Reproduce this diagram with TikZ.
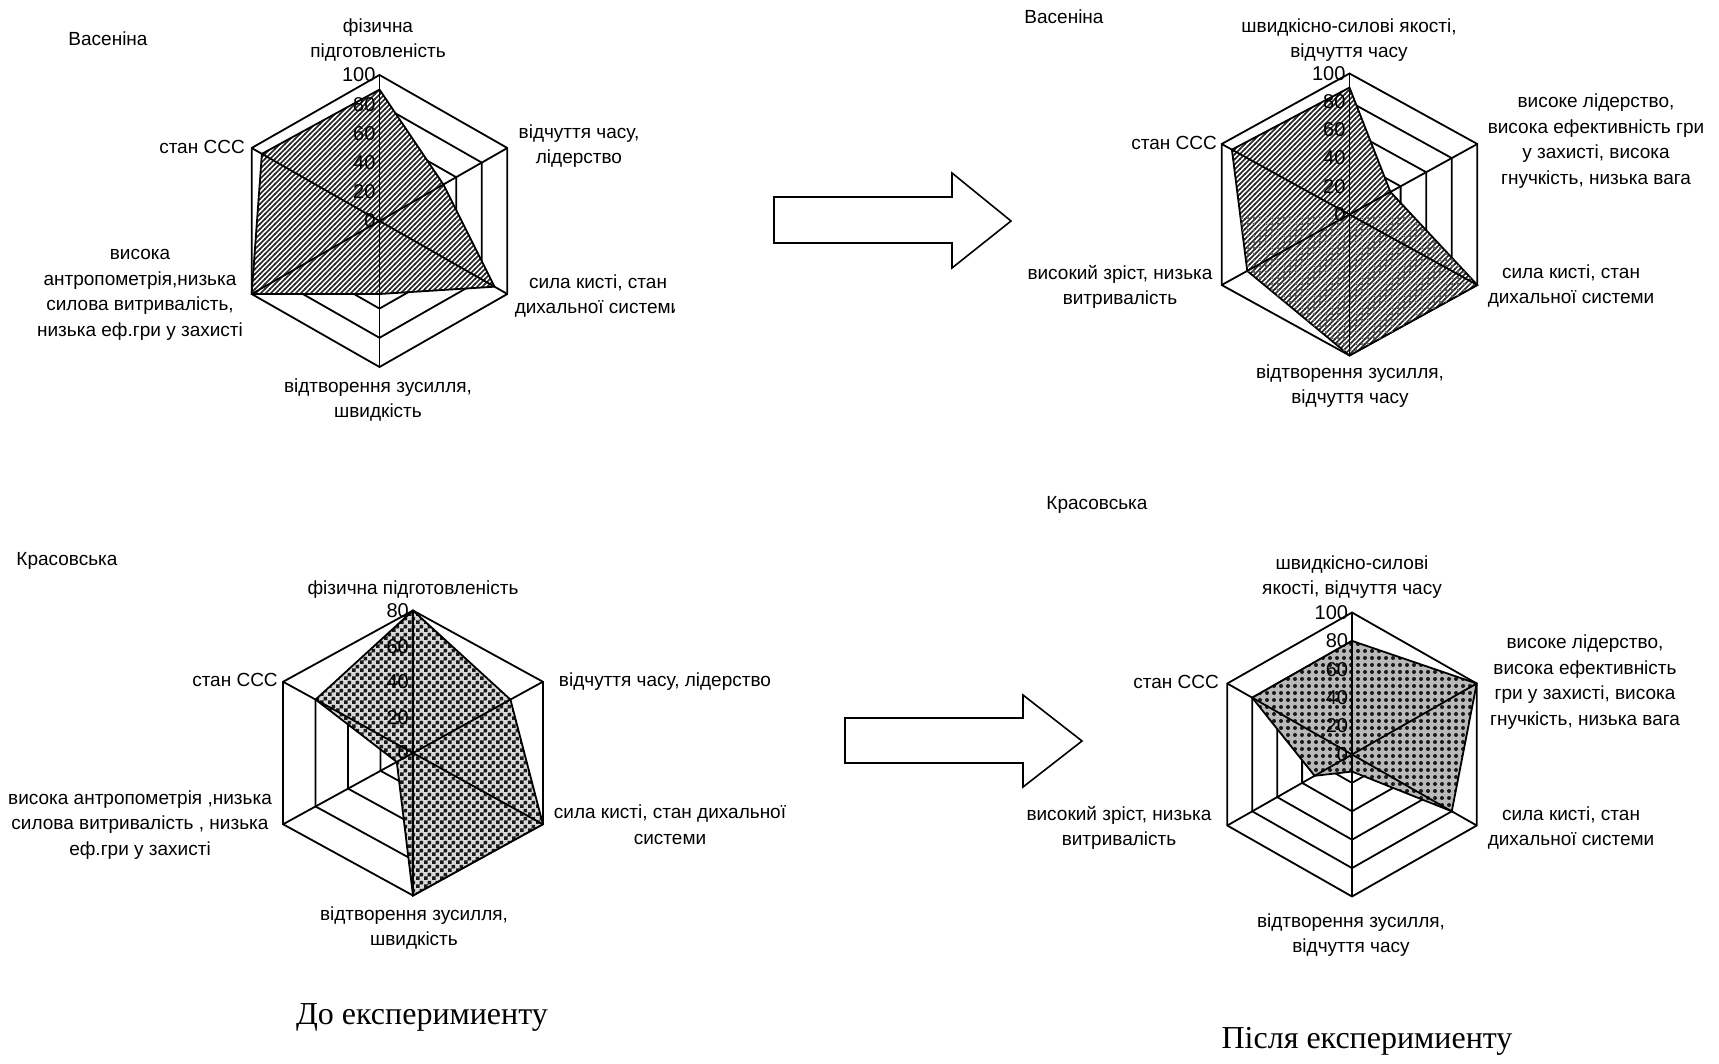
\documentclass[tikz,border=0pt]{standalone}
\usepackage{fontspec}
\setmainfont{Liberation Sans}
\newfontfamily\captionfont{Liberation Serif}
\usetikzlibrary{patterns}

\pgfdeclarepatternformonly{hatchne}{\pgfqpoint{-1pt}{-1pt}}{\pgfqpoint{3.5pt}{3.5pt}}{\pgfqpoint{2.5pt}{2.5pt}}%
{\pgfsetlinewidth{0.75pt}\pgfpathmoveto{\pgfqpoint{-0.2pt}{-0.2pt}}\pgfpathlineto{\pgfqpoint{2.7pt}{2.7pt}}\pgfusepath{stroke}}
\pgfdeclarepatternformonly{checkfine}{\pgfpointorigin}{\pgfqpoint{4pt}{4pt}}{\pgfqpoint{4pt}{4pt}}%
{\pgfpathrectangle{\pgfpointorigin}{\pgfqpoint{2pt}{2pt}}\pgfpathrectangle{\pgfqpoint{2pt}{2pt}}{\pgfqpoint{2pt}{2pt}}\pgfusepath{fill}}
\pgfdeclarepatternformonly{dotsfine}{\pgfqpoint{-1.5pt}{-1.5pt}}{\pgfqpoint{1.5pt}{1.5pt}}{\pgfqpoint{3pt}{3pt}}%
{\pgfpathcircle{\pgfpointorigin}{0.75pt}\pgfusepath{fill}}
\pgfdeclarepatternformonly{dotsbig}{\pgfqpoint{-1.75pt}{-1.75pt}}{\pgfqpoint{1.75pt}{1.75pt}}{\pgfqpoint{3.5pt}{3.5pt}}%
{\pgfpathcircle{\pgfpointorigin}{1pt}\pgfusepath{fill}}

\tikzset{
  gridring/.style={line width=0.9pt},
  axisline/.style={line width=0.9pt},
  dataarea/.style={line width=0.9pt, preaction={fill=white}},
  ticklabel/.style={anchor=east, inner sep=0pt, font=\fontsize{10}{11}\selectfont},
  axlabel/.style={align=center, inner sep=0pt, font=\fontsize{9.5}{12.8}\selectfont},
  chartname/.style={inner sep=0pt, font=\fontsize{9.5}{11}\selectfont},
  captext/.style={inner sep=0pt, font=\captionfont\fontsize{16}{19}\selectfont},
  bigarrow/.style={line width=0.8pt},
}

\begin{document}
\begin{tikzpicture}[x=0.5pt, y=-0.5pt]
  \useasboundingbox (0,0) rectangle (1719,1064);

  % Васеніна, до
  \begin{scope}[shift={(379.5,221)}, x=73.8pt, y=73pt]
    \foreach \k [evaluate=\k as \r using \k/5] in {1,...,5}
      \draw[gridring] (90:\r) -- (30:\r) -- (-30:\r) -- (-90:\r) -- (-150:\r) -- (150:\r) -- cycle;
    \draw[dataarea, pattern=hatchne, pattern color=black!85]
      (90:0.9) -- (30:0.5) -- (-30:0.9) -- (-90:0.5) -- (-150:1) -- (150:0.92) -- cycle;
    \path
      (0,0) coordinate (vdc)
      (90:1) coordinate (vd0)
      (30:1) coordinate (vd1)
      (-30:1) coordinate (vd2)
      (-90:1) coordinate (vd3)
      (-150:1) coordinate (vd4)
      (150:1) coordinate (vd5);
    \foreach \i in {0,...,5}
      \draw[axisline] (vdc) -- (vd\i);
    \foreach \t in {0,20,40,60,80,100}
      \node[ticklabel] at (-0.025,\t/100) {\t};
  \end{scope}

  % Васеніна, після
  \begin{scope}[shift={(1349.5,214.5)}, x=73.8pt, y=70.5pt]
    \foreach \k [evaluate=\k as \r using \k/5] in {1,...,5}
      \draw[gridring] (90:\r) -- (30:\r) -- (-30:\r) -- (-90:\r) -- (-150:\r) -- (150:\r) -- cycle;
    \draw[dataarea, pattern=hatchne, pattern color=black!85]
      (90:0.9) -- (30:0.32) -- (-30:1) -- (-90:1) -- (-150:0.8) -- (150:0.92) -- cycle;
    \begin{scope}
      \clip (-1.1,0) rectangle (1.1,-1.1);
      \path[pattern=dotsfine, pattern color=black!60]
        (90:0.9) -- (30:0.32) -- (-30:1) -- (-90:1) -- (-150:0.8) -- (150:0.92) -- cycle;
    \end{scope}
    \path
      (0,0) coordinate (vpc)
      (90:1) coordinate (vp0)
      (30:1) coordinate (vp1)
      (-30:1) coordinate (vp2)
      (-90:1) coordinate (vp3)
      (-150:1) coordinate (vp4)
      (150:1) coordinate (vp5);
    \foreach \i in {0,...,5}
      \draw[axisline] (vpc) -- (vp\i);
    \foreach \t in {0,20,40,60,80,100}
      \node[ticklabel] at (-0.025,\t/100) {\t};
  \end{scope}

  % Красовська, до
  \begin{scope}[shift={(413,753)}, x=75pt, y=71.25pt]
    \foreach \k [evaluate=\k as \r using \k/4] in {1,...,4}
      \draw[gridring] (90:\r) -- (30:\r) -- (-30:\r) -- (-90:\r) -- (-150:\r) -- (150:\r) -- cycle;
    \draw[dataarea, preaction={fill=gray!30}, pattern=checkfine, pattern color=black!90]
      (90:1) -- (30:0.75) -- (-30:1) -- (-90:1) -- (-150:0.125) -- (150:0.75) -- cycle;
    \path
      (0,0) coordinate (kdc)
      (90:1) coordinate (kd0)
      (30:1) coordinate (kd1)
      (-30:1) coordinate (kd2)
      (-90:1) coordinate (kd3)
      (-150:1) coordinate (kd4)
      (150:1) coordinate (kd5);
    \foreach \i in {0,...,5}
      \draw[axisline] (kdc) -- (kd\i);
    \foreach \t in {0,20,40,60,80}
      \node[ticklabel] at (-0.025,\t/80) {\t};
  \end{scope}

  % Красовська, після
  \begin{scope}[shift={(1352,754.5)}, x=72pt, y=71pt]
    \foreach \k [evaluate=\k as \r using \k/5] in {1,...,5}
      \draw[gridring] (90:\r) -- (30:\r) -- (-30:\r) -- (-90:\r) -- (-150:\r) -- (150:\r) -- cycle;
    \draw[dataarea, preaction={fill=gray!55}, pattern=dotsbig, pattern color=black!90]
      (90:0.8) -- (30:1) -- (-30:0.8) -- (-90:0.12) -- (-150:0.3) -- (150:0.8) -- cycle;
    \path
      (0,0) coordinate (kpc)
      (90:1) coordinate (kp0)
      (30:1) coordinate (kp1)
      (-30:1) coordinate (kp2)
      (-90:1) coordinate (kp3)
      (-150:1) coordinate (kp4)
      (150:1) coordinate (kp5);
    \foreach \i in {0,...,5}
      \draw[axisline] (kpc) -- (kp\i);
    \foreach \t in {0,20,40,60,80,100}
      \node[ticklabel] at (-0.025,\t/100) {\t};
  \end{scope}

  % підписи осей
  \node[chartname] (vdname) at (108,39) {Васеніна};
  \node[axlabel] (vdl0) at (378,40) {фізична\\підготовленість};
  \node[axlabel] (vdl1) at (579,146) {відчуття часу,\\лідерство};
  \begin{scope}
    \clip (450,260) rectangle (674,330);
    \node[axlabel] (vdl2) at (598,296) {сила кисті, стан\\дихальної системи};
  \end{scope}
  \node[axlabel] (vdl3) at (378,400) {відтворення зусилля,\\швидкість};
  \node[axlabel] (vdl4) at (140,295) {висока\\антропометрія,низька\\силова витривалість,\\низька еф.гри у захисті};
  \node[axlabel] (vdl5) at (202,147) {стан ССС};

  \node[chartname] (vpname) at (1064,17) {Васеніна};
  \node[axlabel] (vpl0) at (1349,40) {швидкісно-силові якості,\\відчуття часу};
  \node[axlabel] (vpl1) at (1596,141) {високе лідерство,\\висока ефективність гри\\у захисті, висока\\гнучкість, низька вага};
  \node[axlabel] (vpl2) at (1571,286) {сила кисті, стан\\дихальної системи};
  \node[axlabel] (vpl3) at (1350,386) {відтворення зусилля,\\відчуття часу};
  \node[axlabel] (vpl4) at (1120,287) {високий зріст, низька\\витривалість};
  \node[axlabel] (vpl5) at (1174,143) {стан ССС};

  \node[chartname] (kdname) at (67,561) {Красовська};
  \node[axlabel] (kdl0) at (413,590) {фізична підготовленість};
  \node[axlabel] (kdl1) at (665,682) {відчуття часу, лідерство};
  \node[axlabel] (kdl2) at (670,825) {сила кисті, стан дихальної\\системи};
  \node[axlabel] (kdl3) at (414,928) {відтворення зусилля,\\швидкість};
  \node[axlabel] (kdl4) at (140,825) {висока антропометрія ,низька\\силова витривалість , низька\\еф.гри у захисті};
  \node[axlabel] (kdl5) at (235,680) {стан ССС};

  \node[chartname] (kpname) at (1097,505) {Красовська};
  \node[axlabel] (kpl0) at (1352,577) {швидкісно-силові\\якості, відчуття часу};
  \node[axlabel] (kpl1) at (1585,682) {високе лідерство,\\висока ефективність\\гри у захисті, висока\\гнучкість, низька вага};
  \node[axlabel] (kpl2) at (1571,828) {сила кисті, стан\\дихальної системи};
  \node[axlabel] (kpl3) at (1351,935) {відтворення зусилля,\\відчуття часу};
  \node[axlabel] (kpl4) at (1119,828) {високий зріст, низька\\витривалість};
  \node[axlabel] (kpl5) at (1176,682) {стан ССС};

  % стрілки
  \draw[bigarrow] (774,197) -- (952,197) -- (952,173) -- (1011,221) -- (952,268) -- (952,243) -- (774,243) -- cycle;
  \draw[bigarrow] (845,718) -- (1023,718) -- (1023,695) -- (1082,741) -- (1023,787) -- (1023,763) -- (845,763) -- cycle;

  \node[captext] (before) at (422,1017) {До експеримиенту};
  \node[captext] (after) at (1367,1041) {Після експеримиенту};
\end{tikzpicture}
\end{document}
